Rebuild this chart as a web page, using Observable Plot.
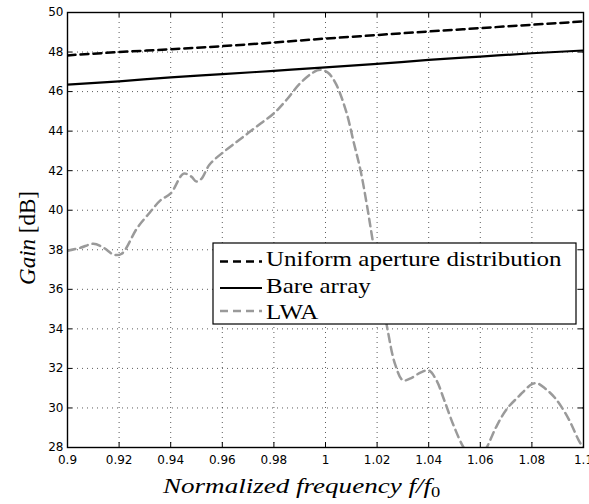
<!DOCTYPE html>
<html>
<head>
<meta charset="utf-8">
<script src="https://cdn.jsdelivr.net/npm/d3@7"></script>
<script src="https://cdn.jsdelivr.net/npm/@observablehq/plot@0.6"></script>
<style>
  html, body { margin: 0; padding: 0; background: white; }
  #wrap { position: relative; width: 589px; height: 504px; }
  #wrap svg.overlay { position: absolute; left: 0; top: 0; pointer-events: none; }
</style>
</head>
<body>
<div id="wrap"></div>
<script>
// ---- data ----
const freq = [0.9, 0.92, 0.94, 0.96, 0.98, 1.0, 1.02, 1.04, 1.06, 1.08, 1.1];
const uniformGain = [47.83, 48.0, 48.14, 48.3, 48.48, 48.68, 48.86, 49.04, 49.21, 49.38, 49.55];
const bareGain = [46.35, 46.52, 46.72, 46.88, 47.05, 47.22, 47.4, 47.6, 47.77, 47.94, 48.08];
const lwaFreq = [0.900, 0.905, 0.910, 0.914, 0.918, 0.921, 0.927, 0.932, 0.936, 0.940, 0.945, 0.948, 0.950, 0.952, 0.955, 0.961, 0.966, 0.970, 0.975, 0.980, 0.985, 0.990, 0.995, 0.998, 1.001, 1.004, 1.008, 1.011, 1.0136, 1.016, 1.018, 1.021, 1.024, 1.027, 1.030, 1.033, 1.037, 1.040, 1.043, 1.046, 1.050, 1.054, 1.058, 1.062, 1.066, 1.070, 1.075, 1.080, 1.082, 1.085, 1.089, 1.094, 1.098, 1.100];
const lwaGain = [37.95, 38.1, 38.3, 38.1, 37.75, 37.8, 39.1, 39.9, 40.5, 40.85, 41.85, 41.7, 41.45, 41.6, 42.3, 43.0, 43.5, 43.9, 44.4, 44.9, 45.6, 46.4, 46.95, 47.1, 46.95, 46.4, 45.0, 43.4, 42.0, 40.3, 38.7, 36.3, 34.0, 32.2, 31.4, 31.5, 31.8, 31.9, 31.4, 30.4, 29.0, 27.9, 27.3, 27.9, 29.0, 29.9, 30.6, 31.2, 31.25, 31.0, 30.5, 29.5, 28.4, 27.95];
const xTicks = [0.9, 0.92, 0.94, 0.96, 0.98, 1.0, 1.02, 1.04, 1.06, 1.08, 1.1];
const xTickLabels = ["0.9", "0.92", "0.94", "0.96", "0.98", "1", "1.02", "1.04", "1.06", "1.08", "1.1"];
const yTicks = [28, 30, 32, 34, 36, 38, 40, 42, 44, 46, 48, 50];
const seriesNames = ["Uniform aperture distribution", "Bare array", "LWA"];
const seriesColors = ["#000000", "#000000", "#9a9a9a"];
const seriesDash = ["8,5", null, "8,5"];
const seriesWidth = [2.5, 2.2, 2.5];
const xLabel = "Normalized frequency";
const yLabelItalic = "Gain";
const yLabelUnit = "[dB]";

// ---- tables ----
const uniform = freq.map((f, i) => ({f, g: uniformGain[i]}));
const bare = freq.map((f, i) => ({f, g: bareGain[i]}));
const lwa = lwaFreq.map((f, i) => ({f, g: lwaGain[i]}));

const W = 589, H = 504, mL = 67, mR = 6, mT = 12, mB = 57;
const pw = W - mL - mR, ph = H - mT - mB;
const tickLen = 5;

const chart = Plot.plot({
  width: W, height: H,
  marginLeft: mL, marginRight: mR, marginTop: mT, marginBottom: mB,
  x: {domain: [0.9, 1.1]},
  y: {domain: [28, 50]},
  style: {fontFamily: "DejaVu Sans", fontSize: "12px", color: "black", background: "white", overflow: "visible"},
  marks: [
    Plot.gridX(xTicks, {stroke: "#333", strokeOpacity: 1, strokeWidth: 0.8, strokeDasharray: "1,4"}),
    Plot.gridY(yTicks, {stroke: "#333", strokeOpacity: 1, strokeWidth: 0.8, strokeDasharray: "1,4"}),
    Plot.tickX(xTicks, {x: d => d, insetTop: ph - tickLen, stroke: "black", strokeWidth: 1}),
    Plot.tickX(xTicks, {x: d => d, insetBottom: ph - tickLen, stroke: "black", strokeWidth: 1}),
    Plot.tickY(yTicks, {y: d => d, insetLeft: pw - tickLen, stroke: "black", strokeWidth: 1}),
    Plot.tickY(yTicks, {y: d => d, insetRight: pw - tickLen, stroke: "black", strokeWidth: 1}),
    Plot.line(lwa, {x: "f", y: "g", stroke: seriesColors[2], strokeWidth: seriesWidth[2], strokeDasharray: seriesDash[2], curve: "catmull-rom", clip: true}),
    Plot.line(bare, {x: "f", y: "g", stroke: seriesColors[1], strokeWidth: seriesWidth[1], curve: "monotone-x", clip: true}),
    Plot.line(uniform, {x: "f", y: "g", stroke: seriesColors[0], strokeWidth: seriesWidth[0], strokeDasharray: seriesDash[0], curve: "monotone-x", clip: true}),
    Plot.frame({stroke: "black", strokeWidth: 1.4}),
    Plot.axisX(xTicks, {tickSize: 0, tickPadding: 8, tickFormat: d => xTickLabels[xTicks.indexOf(d)], label: null, fill: "black"}),
    Plot.axisY(yTicks, {tickSize: 0, tickPadding: 4, label: null, fill: "black"})
  ]
});

const wrap = document.getElementById("wrap");
wrap.appendChild(chart);

// ---- overlay: axis titles + legend ----
const ov = d3.select(wrap).append("svg")
  .attr("class", "overlay")
  .attr("width", W).attr("height", H);

// x title
const xt = ov.append("text")
  .attr("transform", "translate(163,493) scale(1.23,1)")
  .attr("font-family", "Liberation Serif")
  .attr("font-size", 22)
  .attr("fill", "black")
  .attr("font-style", "italic");
xt.append("tspan").text(xLabel + " f/f");
xt.append("tspan").attr("font-style", "normal").attr("font-size", 15).attr("dy", 4).text("0");

// y title
const yt = ov.append("text")
  .attr("transform", "translate(35,238) rotate(-90)")
  .attr("text-anchor", "middle")
  .attr("font-family", "Liberation Serif")
  .attr("fill", "black")
  .attr("font-size", 23);
yt.append("tspan").attr("font-style", "italic").text(yLabelItalic);
yt.append("tspan").text(" " + yLabelUnit);

// legend
const lg = ov.append("g");
lg.append("rect").attr("x", 213).attr("y", 243).attr("width", 363).attr("height", 81)
  .attr("fill", "white").attr("stroke", "black").attr("stroke-width", 1.2);
const rowLineY = [261.5, 288, 311];
const rowBase = [265.5, 293, 318.5];
seriesNames.forEach((name, i) => {
  lg.append("line").attr("x1", 220).attr("x2", 262).attr("y1", rowLineY[i]).attr("y2", rowLineY[i])
    .attr("stroke", seriesColors[i]).attr("stroke-width", seriesWidth[i])
    .attr("stroke-dasharray", seriesDash[i]);
  lg.append("text").attr("transform", `translate(266,${rowBase[i]}) scale(1.19,1)`)
    .attr("font-family", "Liberation Serif").attr("font-size", 21).attr("fill", "black").text(name);
});
</script>
</body>
</html>
